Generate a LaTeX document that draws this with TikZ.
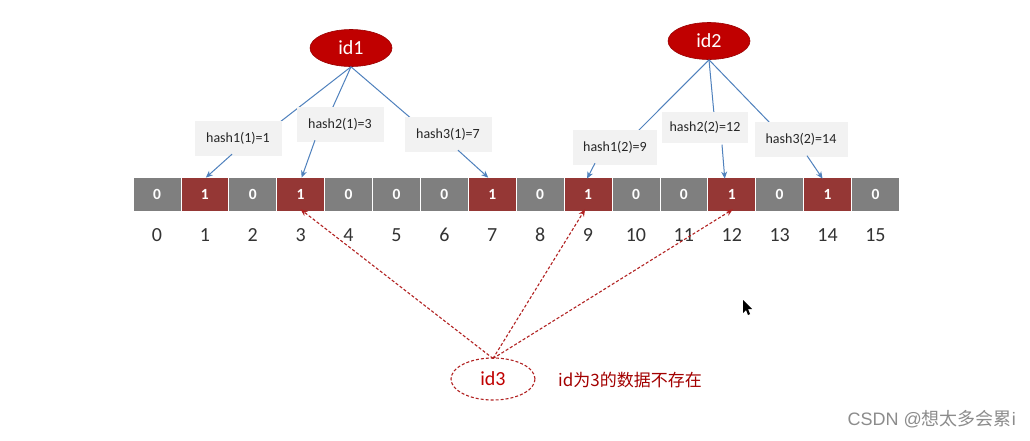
\documentclass[tikz,border=0pt]{standalone}
\usepackage{fontspec}
\setmainfont{Carlito}
\newfontfamily\cjk{Noto Sans CJK SC}
\newfontfamily\wmlatin{Liberation Sans}
\usetikzlibrary{shapes.geometric,arrows.meta,calc}
\definecolor{cellgrey}{HTML}{7F7F7F}
\definecolor{cellred}{HTML}{953735}
\definecolor{idred}{HTML}{C00000}
\definecolor{linkblue}{HTML}{4F81BD}
\definecolor{boxgrey}{HTML}{F2F2F2}
\definecolor{dashred}{HTML}{B22222}
\definecolor{wmgrey}{HTML}{8C8C8C}
\tikzset{
  idnode/.style={ellipse, fill=idred, draw=idred!80!black, line width=0.6pt, minimum width=82pt, minimum height=37pt, inner sep=0pt, text=white, font=\fontsize{20}{22}\selectfont},
  hashbox/.style={rectangle, fill=boxgrey, inner sep=0pt, minimum width=87pt, minimum height=35pt, font=\fontsize{14}{16}\selectfont, text=black!85},
  cellbox/.style={rectangle, draw=white, line width=0.8pt, minimum width=47.9pt, minimum height=34pt, inner sep=0pt, text=white, font=\fontsize{15.5}{17}\selectfont\bfseries},
  idxlabel/.style={font=\fontsize{20}{22}\selectfont, text=black!80, inner sep=0pt},
  blueline/.style={draw=linkblue, line width=1pt},
  bluearrow/.style={draw=linkblue, line width=1pt, -{Stealth[length=7pt,width=6pt]}},
  redarrow/.style={draw=dashred, line width=1.1pt, dashed, dash pattern=on 3pt off 2pt, -{Stealth[length=7pt,width=6pt]}},
}
\begin{document}
\begin{tikzpicture}[x=1pt,y=-1pt]
\useasboundingbox (0,0) rectangle (1030,440);
\fill[white] (0,0) rectangle (1030,440);
% ellipses
\node[idnode] (id1) at (351,48) {id1};
\node[idnode] (id2) at (709,41) {id2};
% cells
\foreach \b [count=\i from 0] in {0,1,0,1,0,0,0,1,0,1,0,0,1,0,1,0} {
  \ifnum\b=1
    \node[cellbox, fill=cellred] (c\i) at ({133+(\i+0.5)*47.9},194) {1};
  \else
    \node[cellbox, fill=cellgrey] (c\i) at ({133+(\i+0.5)*47.9},194) {0};
  \fi
  \node[idxlabel] (n\i) at ({133+(\i+0.5)*47.9},235) {\i};
}
% lines from ids to hash boxes (drawn first, boxes cover them)
\draw[blueline] (id1.south) -- (280,122) coordinate (e11);
\draw[blueline] (id1.south) -- (332,109) coordinate (e21);
\draw[blueline] (id1.south) -- (413,120) coordinate (e31);
\draw[blueline] (id2.south) -- (637,132) coordinate (e12);
\draw[blueline] (id2.south) -- (714,114) coordinate (e22);
\draw[blueline] (id2.south) -- (770,123) coordinate (e32);
% hash boxes
\node[hashbox] (h11) at (238,138) {hash1(1)=1};
\node[hashbox] (h21) at (340,124) {hash2(1)=3};
\node[hashbox] (h31) at (448,134) {hash3(1)=7};
\node[hashbox, minimum width=84pt] (h12) at (615,147) {hash1(2)=9};
\node[hashbox, minimum width=86pt, minimum height=31pt] (h22) at (705,127) {hash2(2)=12};
\node[hashbox, minimum width=93pt] (h32) at (801,139) {hash3(2)=14};
% arrows to cells
\draw[bluearrow] ([xshift=-6pt,yshift=1.5pt]h11.south) -- ([xshift=1pt,yshift=-1pt]c1.north);
\draw[bluearrow] ([xshift=-25pt,yshift=1.5pt]h21.south) -- ([xshift=1pt,yshift=-1pt]c3.north);
\draw[bluearrow] ([xshift=10pt,yshift=1.5pt]h31.south) -- ([xshift=-4pt,yshift=-1pt]c7.north);
\draw[bluearrow] ([xshift=-20pt,yshift=1.5pt]h12.south) -- ([xshift=-1pt,yshift=-2pt]c9.north);
\draw[bluearrow] ([xshift=17pt,yshift=-2pt]h22.south) -- ([xshift=-7pt,yshift=-2pt]c12.north);
\draw[bluearrow] ([xshift=6pt,yshift=1pt]h32.south) -- ([xshift=-5pt,yshift=-2pt]c14.north);
% id3
\node[ellipse, draw=dashred, line width=1.1pt, dashed, dash pattern=on 3pt off 2pt, minimum width=84pt, minimum height=42pt, inner sep=0pt, text=idred, font=\fontsize{20}{22}\selectfont] (id3) at (493,379) {id3};
\draw[redarrow] ([yshift=-1pt]id3.north) -- ([yshift=2pt]c3.south);
\draw[redarrow] ([yshift=-1pt]id3.north) -- ([xshift=-3pt,yshift=2pt]c9.south);
\draw[redarrow] ([yshift=-1pt]id3.north) -- ([xshift=1pt,yshift=2pt]c12.south);
\node[anchor=west, inner sep=0pt, text=idred!85!black, font=\cjk\fontsize{17}{19}\selectfont] (note) at (558,380) {id为3的数据不存在};
% cursor
\fill[black] (743,300) -- (743,313) -- (746,310) -- (748,315) -- (750,314) -- (748,309) -- (752,309) -- cycle;
% watermark
\node[anchor=east, inner sep=0pt, text=wmgrey, font=\cjk\fontsize{18}{20}\selectfont] (wm) at (1016,419) {{\wmlatin CSDN @}想太多会累{\wmlatin i}};
\end{tikzpicture}
\end{document}
